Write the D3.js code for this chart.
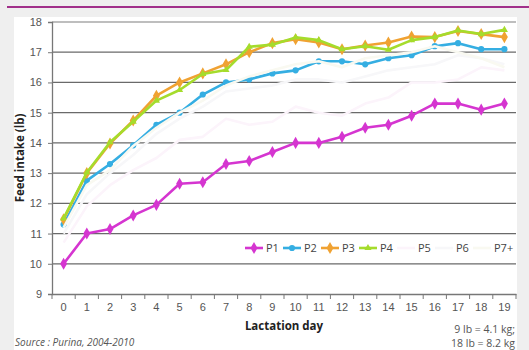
<!DOCTYPE html>
<html><head><meta charset="utf-8">
<script src="https://cdn.jsdelivr.net/npm/d3@7"></script>
<style>
html,body{margin:0;padding:0;background:#efefef;}
svg{display:block;font-family:"Open Sans","Noto Sans",sans-serif;}
</style></head>
<body>
<svg id="c" width="529" height="350"></svg>
<script>
const days = d3.range(0, 20);
const yTicks = [9,10,11,12,13,14,15,16,17,18];
const seriesNames = ["P1","P2","P3","P4","P5","P6","P7+"];
const P1 = [10.0,11.0,11.15,11.6,11.95,12.65,12.7,13.3,13.4,13.7,14.0,14.0,14.2,14.5,14.6,14.9,15.3,15.3,15.1,15.3];
const P2 = [11.3,12.75,13.3,13.92,14.6,15.0,15.6,16.0,16.1,16.3,16.4,16.7,16.7,16.6,16.8,16.9,17.2,17.3,17.1,17.1];
const P3 = [11.47,13.0,13.98,14.74,15.56,16.0,16.3,16.6,17.0,17.3,17.43,17.32,17.1,17.22,17.32,17.52,17.5,17.7,17.6,17.5];
const P4 = [11.5,13.02,14.02,14.7,15.4,15.75,16.28,16.41,17.18,17.25,17.49,17.4,17.1,17.2,17.08,17.4,17.5,17.72,17.6,17.74];
const P5 = [10.7,11.9,12.6,13.1,13.5,14.1,14.2,14.8,14.6,14.7,15.2,15.0,14.9,15.3,15.5,16.0,16.0,16.1,16.5,16.4];
const P6 = [11.0,12.3,13.0,13.6,14.3,14.8,15.2,15.7,15.8,15.9,16.1,16.1,16.0,16.2,16.4,16.5,16.6,16.9,16.8,16.6];
const P7 = [11.2,12.6,13.1,13.9,14.5,15.0,15.4,15.9,16.2,16.4,16.6,16.7,16.5,16.8,16.9,17.0,17.2,17.0,16.8,16.5];
const seriesValues = [P1,P2,P3,P4,P5,P6,P7];
const colors = ["#d535d0","#35aee2","#f0a232","#a5dc2c","#fcf4fb","#f7f7f9","#f9f9f1"];
const markers = ["diamond","circle","diamond","triangle",null,null,null];

const svg = d3.select("#c");
svg.append("rect").attr("x",14).attr("y",17).attr("width",503).attr("height",340).attr("fill","#ffffff");
svg.append("line").attr("x1",7).attr("x2",529).attr("y1",7).attr("y2",7).attr("stroke","#a1308a").attr("stroke-width",2);

const x = d3.scaleBand().domain(days).range([52,516]);
const y = d3.scaleLinear().domain([9,18]).range([294,22]);

svg.append("g").selectAll("line").data(yTicks.filter(t=>t>9)).join("line")
  .attr("x1",52).attr("x2",516)
  .attr("y1",d=>y(d)).attr("y2",d=>y(d))
  .attr("stroke",d=>d===18?"#a8a8a8":"#6a6a6a").attr("stroke-width",1.3);

const ya = svg.append("g").attr("transform","translate(52,0)")
  .call(d3.axisLeft(y).tickValues(yTicks).tickSize(4).tickPadding(6));
ya.select(".domain").attr("stroke","#777").attr("stroke-width",1.3);
ya.selectAll(".tick line").attr("stroke","#777");
ya.selectAll("text").attr("font-size",11).attr("fill","#555");

const xa = svg.append("g").attr("transform","translate(0,294)")
  .call(d3.axisBottom(x).tickSize(0).tickPadding(9).tickSizeOuter(0));
xa.select(".domain").attr("stroke","#777").attr("stroke-width",1.3);
xa.selectAll("text").attr("font-size",11).attr("fill","#555");
svg.append("g").selectAll("line").data(days.map(d=>x(d)).concat([x.range()[1]])).join("line")
  .attr("x1",d=>d).attr("x2",d=>d).attr("y1",294).attr("y2",299).attr("stroke","#777");

svg.append("text").attr("x",(52+516)/2).attr("y",330).attr("text-anchor","middle")
  .attr("font-size",11.5).attr("font-weight","bold").attr("fill","#222").text("Lactation day");
svg.append("text").attr("transform","translate(24,158) rotate(-90)").attr("text-anchor","middle")
  .attr("font-size",11.5).attr("font-weight","bold").attr("fill","#222").text("Feed intake (lb)");
svg.append("text").attr("x",15).attr("y",346).attr("font-size",10).attr("font-style","italic").attr("fill","#555")
  .text("Source : Purina, 2004-2010");
svg.append("text").attr("x",515).attr("y",333).attr("text-anchor","end").attr("font-size",10.5).attr("fill","#555").text("9 lb = 4.1 kg;");
svg.append("text").attr("x",515).attr("y",347).attr("text-anchor","end").attr("font-size",10.5).attr("fill","#555").text("18 lb = 8.2 kg");

const cx = d => x(d) + x.bandwidth()/2;
const line = d3.line().x((v,i)=>cx(days[i])).y(v=>y(v));
const sym = {diamond:d3.symbolDiamond, circle:d3.symbolCircle, triangle:d3.symbolTriangle};

function drawMarker(g, type, color, px, py){
  if(!type) return;
  g.append("path").attr("d", d3.symbol(sym[type], type==="diamond"?42:(type==="circle"?30:22))())
    .attr("transform",`translate(${px},${py})`).attr("fill",color);
}

seriesValues.forEach((vals,si)=>{
  const g = svg.append("g");
  g.append("path").datum(vals).attr("d",line).attr("fill","none")
    .attr("stroke",colors[si]).attr("stroke-width",2.6).attr("stroke-linejoin","round");
  vals.forEach((v,i)=>drawMarker(g, markers[si], colors[si], cx(days[i]), y(v)));
});

const lg = svg.append("g");
seriesNames.forEach((n,i)=>{
  const lx = 245 + i*38, ly = 248;
  lg.append("line").attr("x1",lx).attr("x2",lx+18).attr("y1",ly).attr("y2",ly)
    .attr("stroke",colors[i]).attr("stroke-width",2.6);
  drawMarker(lg, markers[i], colors[i], lx+9, ly);
  lg.append("text").attr("x",lx+21).attr("y",ly+4).attr("font-size",11).attr("fill","#444").text(n);
});
</script>
</body></html>
